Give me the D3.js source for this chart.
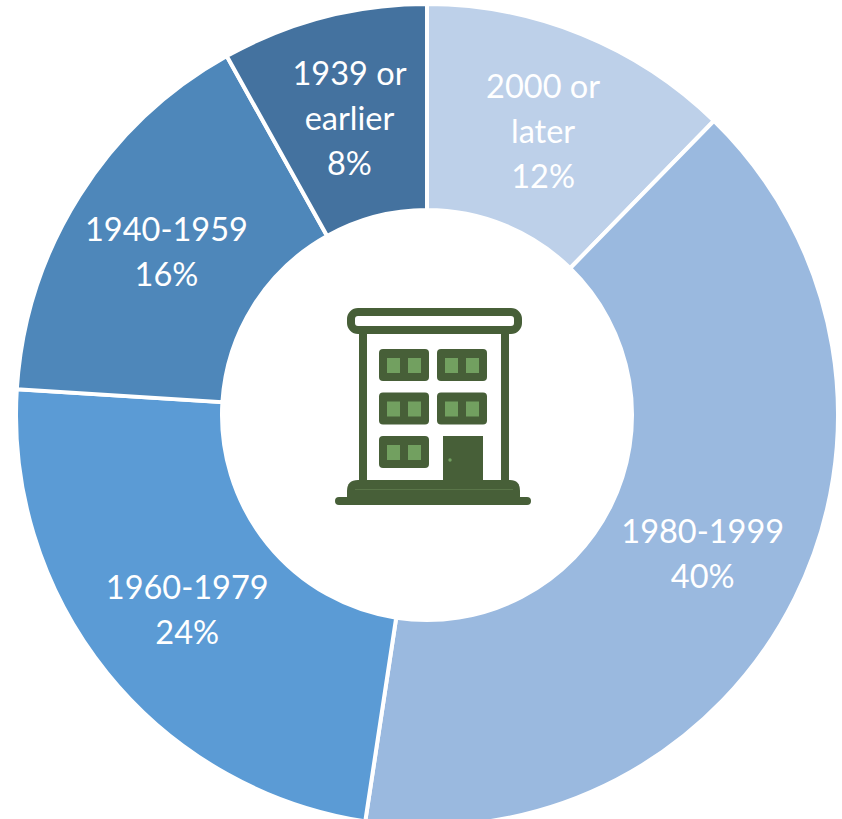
<!DOCTYPE html>
<html>
<head>
<meta charset="utf-8">
<script src="https://cdn.jsdelivr.net/npm/d3@7"></script>
<style>
  html, body { margin: 0; padding: 0; background: #fff; overflow: hidden; }
  svg { display: block; }
</style>
</head>
<body>
<div id="chart"></div>
<script>
// clockwise from 12 o'clock, percent shares
var categories = ["2000 or later", "1980-1999", "1960-1979", "1940-1959", "1939 or earlier"];
var shares = [12.3, 40.1, 23.6, 15.9, 8.1];
var colors = ["#BDD0E9", "#9AB9DF", "#5B9BD5", "#4E87BA", "#44729F"];
var labelLines = [["2000 or", "later"], ["1980-1999"], ["1960-1979"], ["1940-1959"], ["1939 or", "earlier"]];

var width = 842;
var height = 819;
var cx = 427;
var cy = 415;
var outerR = 411;
var innerR = 205;
var lineGap = 45;

var svg = d3.select("#chart")
  .append("svg")
    .attr("width", width)
    .attr("height", height);

var pie = d3.pie().sort(null).value(function(d, i) { return shares[i]; });
var arc = d3.arc().innerRadius(innerR).outerRadius(outerR);

var ring = svg.append("g").attr("transform", "translate(" + cx + "," + cy + ")");

ring.selectAll("path")
  .data(pie(categories))
  .enter()
  .append("path")
    .attr("d", arc)
    .attr("fill", function(d) { return colors[d.index]; })
    .attr("stroke", "#fff")
    .attr("stroke-width", 4);

var labels = ring.selectAll("text")
  .data(pie(categories))
  .enter()
  .append("text")
    .attr("text-anchor", "middle")
    .attr("fill", "#fff")
    .style("font-family", "Lato, 'Open Sans', sans-serif")
    .style("font-size", "32.5px")
    .each(function(d) {
      var c = arc.centroid(d);
      var lines = labelLines[d.index].concat(d3.format(".0f")(shares[d.index]) + "%");
      var top = c[1] - (lines.length - 1) * lineGap / 2 + 13;
      var t = d3.select(this);
      lines.forEach(function(line, i) {
        t.append("tspan")
          .attr("x", c[0])
          .attr("y", top + i * lineGap)
          .text(line);
      });
    });

// building icon in the hole, drawn in its own 230x230 box (same box as the crop)
var dark = "#475F38";
var light = "#72A060";
var icon = svg.append("g").attr("transform", "translate(320,290)");

// roof band
icon.append("rect").attr("x", 31).attr("y", 22).attr("width", 167).attr("height", 18).attr("rx", 7)
  .attr("fill", "#fff").attr("stroke", dark).attr("stroke-width", 8);
// walls
icon.append("rect").attr("x", 39).attr("y", 44).attr("width", 8).attr("height", 150).attr("fill", dark);
icon.append("rect").attr("x", 181).attr("y", 44).attr("width", 8).attr("height", 150).attr("fill", dark);
// base
icon.append("path")
  .attr("d", "M27,207 V201 Q27,190 38,190 H190 Q200,190 200,201 V207 Z")
  .attr("fill", dark);
icon.append("rect").attr("x", 15).attr("y", 207).attr("width", 196).attr("height", 8).attr("rx", 4).attr("fill", dark);
icon.append("rect").attr("x", 35).attr("y", 199).attr("width", 158).attr("height", 1).attr("fill", "#5A7549");

// windows, column and row in icon units
var windowCells = [[0, 0], [1, 0], [0, 1], [1, 1], [0, 2]];
var win = icon.selectAll("g.win")
  .data(windowCells)
  .enter()
  .append("g")
    .attr("class", "win")
    .attr("transform", function(d) { return "translate(" + (59 + d[0] * 58) + "," + (59 + d[1] * 43.5) + ")"; });
win.append("rect").attr("width", 50).attr("height", 32).attr("rx", 4).attr("fill", dark);
win.append("rect").attr("x", 8).attr("y", 9).attr("width", 13).attr("height", 15).attr("fill", light);
win.append("rect").attr("x", 29).attr("y", 9).attr("width", 13).attr("height", 15).attr("fill", light);

// door
icon.append("rect").attr("x", 123).attr("y", 146).attr("width", 40).attr("height", 48).attr("fill", dark);
icon.append("circle").attr("cx", 130).attr("cy", 170).attr("r", 1.7).attr("fill", light);
</script>
</body>
</html>
